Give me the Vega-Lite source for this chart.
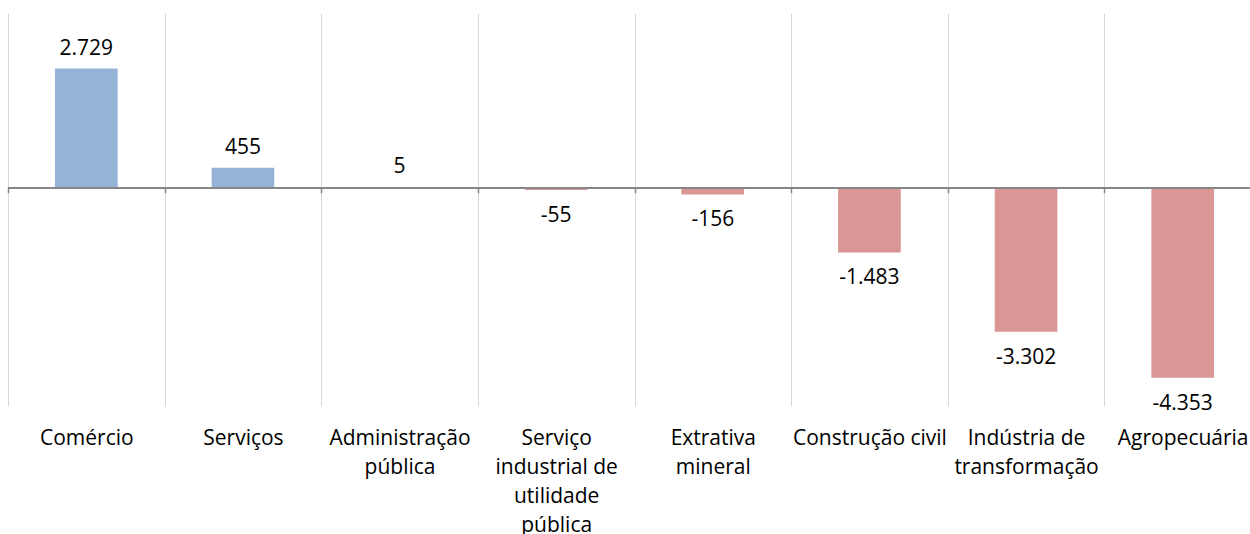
{
  "$schema": "https://vega.github.io/schema/vega-lite/v6.json",
  "width": 1242,
  "height": 393,
  "autosize": {"type": "none"},
  "padding": {"left": 8, "top": 13, "right": 0, "bottom": 128},
  "background": "white",
  "config": {
    "view": {"stroke": null},
    "font": "Open Sans",
    "locale": {
      "number": {"decimal": ",", "thousands": ".", "grouping": [3], "currency": ["R$", ""], "minus": "-"}
    }
  },
  "data": {
    "values": [
      {"setor": "Comércio", "valor": 2729},
      {"setor": "Serviços", "valor": 455},
      {"setor": "Administração pública", "valor": 5},
      {"setor": "Serviço industrial de utilidade pública", "valor": -55},
      {"setor": "Extrativa mineral", "valor": -156},
      {"setor": "Construção civil", "valor": -1483},
      {"setor": "Indústria de transformação", "valor": -3302},
      {"setor": "Agropecuária", "valor": -4353}
    ]
  },
  "layer": [
    {
      "mark": {"type": "bar", "width": {"band": 0.4}},
      "encoding": {
        "x": {
          "field": "setor", "type": "nominal", "sort": null,
          "scale": {"range": [0, 1253], "paddingInner": 0, "paddingOuter": 0},
          "axis": {
            "orient": "bottom", "title": null, "domain": false, "ticks": false,
            "grid": true, "gridColor": "#D9D9D9", "gridWidth": 1, "tickBand": "extent",
            "labelAngle": 0, "labelFont": "Open Sans", "labelFontSize": 21, "labelColor": "#000000",
            "labelPadding": 21, "labelLineHeight": 29, "labelLimit": 0,
            "labelExpr": "datum.label == 'Administração pública' ? ['Administração','pública'] : datum.label == 'Serviço industrial de utilidade pública' ? ['Serviço','industrial de','utilidade','pública'] : datum.label == 'Extrativa mineral' ? ['Extrativa','mineral'] : datum.label == 'Indústria de transformação' ? ['Indústria de','transformação'] : datum.label"
          }
        },
        "y": {"field": "valor", "type": "quantitative", "scale": {"domain": [-5000, 4000]}, "axis": null},
        "color": {"condition": {"test": "datum.valor > 0", "value": "#95B3D7"}, "value": "#D99694"}
      }
    },
    {
      "mark": {"type": "rule", "color": "#868686", "strokeWidth": 1.5},
      "encoding": {"y": {"datum": 0, "type": "quantitative"}}
    },
    {
      "transform": [{"filter": "datum.valor > 0"}],
      "mark": {"type": "text", "baseline": "alphabetic", "dy": -14, "fontSize": 21, "font": "Open Sans", "color": "#000000"},
      "encoding": {
        "x": {
          "field": "setor", "type": "nominal", "sort": null,
          "axis": {
            "orient": "top", "offset": -174.7, "title": null, "domain": false, "labels": false,
            "grid": false, "ticks": true, "tickSize": -5, "tickColor": "#868686", "tickWidth": 1.5, "tickBand": "extent"
          }
        },
        "y": {"field": "valor", "type": "quantitative"},
        "text": {"field": "valor", "type": "quantitative", "format": ",d"}
      }
    },
    {
      "transform": [{"filter": "datum.valor <= 0"}],
      "mark": {"type": "text", "baseline": "alphabetic", "dy": 32, "fontSize": 21, "font": "Open Sans", "color": "#000000"},
      "encoding": {
        "x": {"field": "setor", "type": "nominal", "sort": null, "axis": null},
        "y": {"field": "valor", "type": "quantitative"},
        "text": {"field": "valor", "type": "quantitative", "format": ",d"}
      }
    }
  ],
  "resolve": {"axis": {"x": "independent"}}
}
